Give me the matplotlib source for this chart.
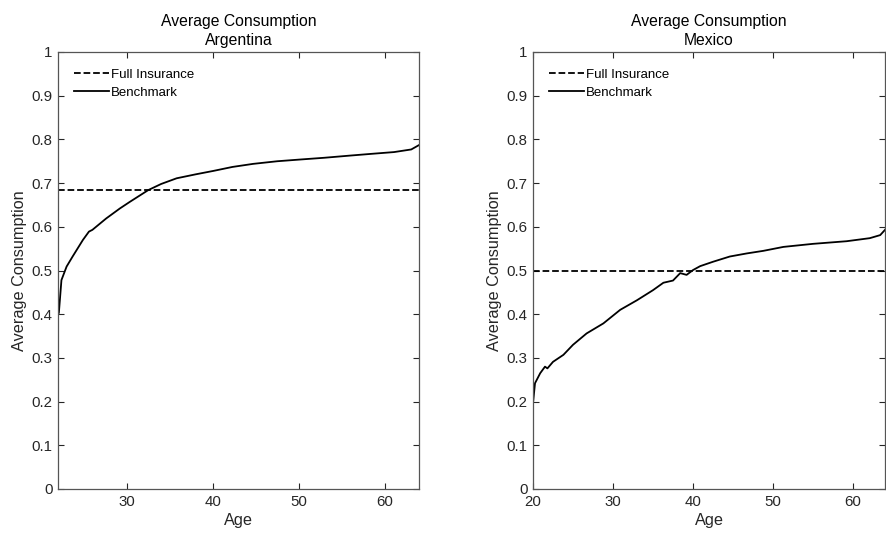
import numpy as np
import matplotlib.pyplot as plt
from matplotlib.ticker import FuncFormatter

plt.rcParams['font.family'] = ['Liberation Sans', 'DejaVu Sans']

# Argentina: valores
edad_arg = [22.0, 22.1, 22.4, 23.0, 23.7, 24.9, 25.6, 26.0, 27.6, 29.2, 30.35,
            32.5, 34.0, 35.8, 38.0, 40.1, 42.3, 44.7, 47.5, 50.2, 53.0, 56.0,
            58.5, 61.1, 63.1, 64.0]
cons_arg = [0.400, 0.403, 0.478, 0.509, 0.532, 0.570, 0.589, 0.593, 0.619, 0.642, 0.657,
            0.684, 0.698, 0.711, 0.720, 0.728, 0.737, 0.744, 0.750, 0.754, 0.758, 0.763,
            0.767, 0.771, 0.777, 0.787]
seguro_arg = 0.685

# Mexico: valores
edad_mex = [20.0, 20.25, 20.9, 21.5, 21.8, 22.5, 23.8, 25.0, 26.7, 28.8, 30.9,
            33.0, 35.0, 36.3, 37.5, 38.4, 39.2, 40.0, 40.9, 42.5, 44.6, 46.7,
            48.8, 51.3, 55.0, 59.2, 62.1, 63.4, 64.0]
cons_mex = [0.196, 0.242, 0.265, 0.280, 0.276, 0.291, 0.307, 0.330, 0.356, 0.379, 0.410,
            0.432, 0.455, 0.472, 0.477, 0.494, 0.490, 0.501, 0.510, 0.520, 0.532, 0.539,
            0.545, 0.554, 0.561, 0.567, 0.574, 0.581, 0.593]
seguro_mex = 0.5

paneles = [
    ('Argentina', edad_arg, cons_arg, seguro_arg, (22, 64), [30, 40, 50, 60],
     [58, 419]),
    ('Mexico', edad_mex, cons_mex, seguro_mex, (20, 64), [20, 30, 40, 50, 60],
     [533, 885]),
]

W, H = 886, 535
fig = plt.figure(figsize=(W / 100, H / 100), dpi=100)
gris = '#262626'

for pais, edad, cons, seguro, xlim, xticks, (x0, x1) in paneles:
    ax = fig.add_axes([x0 / W, (H - 489) / H, (x1 - x0) / W, 437 / H])
    ax.plot(xlim, [seguro, seguro], 'k--', lw=1.3, label='Full Insurance')
    ax.plot(edad, cons, 'k-', lw=1.3, label='Benchmark')
    ax.set_xlim(xlim)
    ax.set_ylim(0, 1)
    ax.set_xticks(xticks)
    ax.set_yticks(np.arange(0, 11) / 10)
    ax.yaxis.set_major_formatter(FuncFormatter(lambda v, p: '%g' % round(v, 1)))
    ax.tick_params(direction='in', top=True, right=True, length=4, width=0.8,
                   colors=gris, labelsize=10.8, pad=4)
    for s in ax.spines.values():
        s.set_color('#555555')
        s.set_linewidth(0.9)
    ax.set_xlabel('Age', fontsize=11.7, color=gris, labelpad=3)
    ax.set_ylabel('Average Consumption', fontsize=11.7, color=gris, labelpad=3)
    ax.set_title('Average Consumption\n' + pais, fontsize=11.3, color='black',
                 pad=5, linespacing=1.35)
    ax.legend(loc='upper left', frameon=False, fontsize=9.5, handlelength=2.6,
              handletextpad=0.15, borderaxespad=0.3, labelspacing=0.45,
              borderpad=0.95)

fig.savefig('out.png', dpi=100)
